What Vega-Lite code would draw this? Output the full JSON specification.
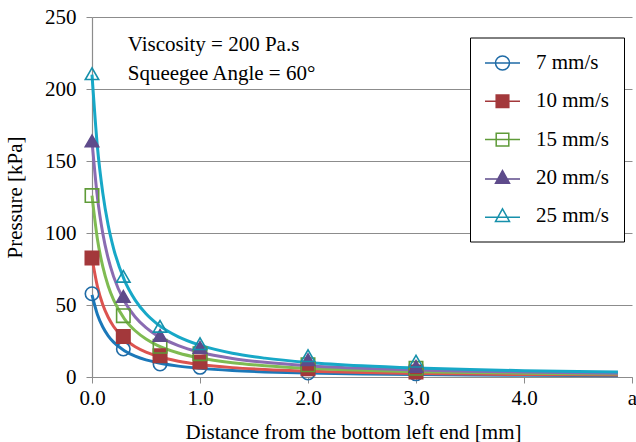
{
  "$schema": "https://vega.github.io/schema/vega-lite/v6.json",
  "width": 540,
  "height": 360,
  "autosize": {"type": "none"},
  "padding": {"left": 92, "top": 17, "right": 4, "bottom": 65},
  "background": "white",
  "config": {
    "view": {"stroke": null},
    "font": "Liberation Serif",
    "axis": {
      "labelFont": "Liberation Serif",
      "labelFontSize": 21,
      "labelColor": "black",
      "labelFlush": false,
      "titleFont": "Liberation Serif",
      "titleFontSize": 21,
      "titleFontWeight": "normal",
      "titleColor": "black",
      "domainColor": "#8c8c8c",
      "tickColor": "#8c8c8c",
      "gridColor": "#8c8c8c",
      "gridWidth": 1,
      "domainWidth": 1.2,
      "tickSize": 6
    },
    "legend": {
      "labelFont": "Liberation Serif",
      "labelFontSize": 21,
      "labelColor": "black",
      "labelAlign": "left"
    }
  },
  "resolve": {"scale": {"shape": "independent", "stroke": "independent", "fill": "independent"}},
  "datasets": {
    "curves": [
      {"series": "7 mm/s", "x": 0, "p": 57},
      {"series": "7 mm/s", "x": 0.05, "p": 43.4},
      {"series": "7 mm/s", "x": 0.1, "p": 34.7},
      {"series": "7 mm/s", "x": 0.15, "p": 28.6},
      {"series": "7 mm/s", "x": 0.2, "p": 24.2},
      {"series": "7 mm/s", "x": 0.3, "p": 18.3},
      {"series": "7 mm/s", "x": 0.4, "p": 14.5},
      {"series": "7 mm/s", "x": 0.5, "p": 11.9},
      {"series": "7 mm/s", "x": 0.6, "p": 10.1},
      {"series": "7 mm/s", "x": 0.8, "p": 7.56},
      {"series": "7 mm/s", "x": 1.0, "p": 5.99},
      {"series": "7 mm/s", "x": 1.3, "p": 4.49},
      {"series": "7 mm/s", "x": 1.6, "p": 3.55},
      {"series": "7 mm/s", "x": 2.0, "p": 2.74},
      {"series": "7 mm/s", "x": 2.5, "p": 2.1},
      {"series": "7 mm/s", "x": 3.0, "p": 1.69},
      {"series": "7 mm/s", "x": 3.5, "p": 1.4},
      {"series": "7 mm/s", "x": 4.0, "p": 1.19},
      {"series": "7 mm/s", "x": 4.5, "p": 1.03},
      {"series": "7 mm/s", "x": 4.87, "p": 0.93},
      {"series": "10 mm/s", "x": 0, "p": 82.6},
      {"series": "10 mm/s", "x": 0.05, "p": 62.9},
      {"series": "10 mm/s", "x": 0.1, "p": 50.2},
      {"series": "10 mm/s", "x": 0.15, "p": 41.5},
      {"series": "10 mm/s", "x": 0.2, "p": 35.1},
      {"series": "10 mm/s", "x": 0.3, "p": 26.5},
      {"series": "10 mm/s", "x": 0.4, "p": 21.0},
      {"series": "10 mm/s", "x": 0.5, "p": 17.3},
      {"series": "10 mm/s", "x": 0.6, "p": 14.6},
      {"series": "10 mm/s", "x": 0.8, "p": 11.0},
      {"series": "10 mm/s", "x": 1.0, "p": 8.67},
      {"series": "10 mm/s", "x": 1.3, "p": 6.51},
      {"series": "10 mm/s", "x": 1.6, "p": 5.15},
      {"series": "10 mm/s", "x": 2.0, "p": 3.97},
      {"series": "10 mm/s", "x": 2.5, "p": 3.05},
      {"series": "10 mm/s", "x": 3.0, "p": 2.44},
      {"series": "10 mm/s", "x": 3.5, "p": 2.03},
      {"series": "10 mm/s", "x": 4.0, "p": 1.72},
      {"series": "10 mm/s", "x": 4.5, "p": 1.49},
      {"series": "10 mm/s", "x": 4.87, "p": 1.35},
      {"series": "15 mm/s", "x": 0, "p": 126},
      {"series": "15 mm/s", "x": 0.05, "p": 95.9},
      {"series": "15 mm/s", "x": 0.1, "p": 76.6},
      {"series": "15 mm/s", "x": 0.15, "p": 63.2},
      {"series": "15 mm/s", "x": 0.2, "p": 53.5},
      {"series": "15 mm/s", "x": 0.3, "p": 40.4},
      {"series": "15 mm/s", "x": 0.4, "p": 32.1},
      {"series": "15 mm/s", "x": 0.5, "p": 26.4},
      {"series": "15 mm/s", "x": 0.6, "p": 22.2},
      {"series": "15 mm/s", "x": 0.8, "p": 16.7},
      {"series": "15 mm/s", "x": 1.0, "p": 13.2},
      {"series": "15 mm/s", "x": 1.3, "p": 9.93},
      {"series": "15 mm/s", "x": 1.6, "p": 7.85},
      {"series": "15 mm/s", "x": 2.0, "p": 6.06},
      {"series": "15 mm/s", "x": 2.5, "p": 4.65},
      {"series": "15 mm/s", "x": 3.0, "p": 3.73},
      {"series": "15 mm/s", "x": 3.5, "p": 3.1},
      {"series": "15 mm/s", "x": 4.0, "p": 2.62},
      {"series": "15 mm/s", "x": 4.5, "p": 2.27},
      {"series": "15 mm/s", "x": 4.87, "p": 2.05},
      {"series": "20 mm/s", "x": 0, "p": 164},
      {"series": "20 mm/s", "x": 0.05, "p": 124.9},
      {"series": "20 mm/s", "x": 0.1, "p": 99.7},
      {"series": "20 mm/s", "x": 0.15, "p": 82.3},
      {"series": "20 mm/s", "x": 0.2, "p": 69.7},
      {"series": "20 mm/s", "x": 0.3, "p": 52.6},
      {"series": "20 mm/s", "x": 0.4, "p": 41.7},
      {"series": "20 mm/s", "x": 0.5, "p": 34.3},
      {"series": "20 mm/s", "x": 0.6, "p": 28.9},
      {"series": "20 mm/s", "x": 0.8, "p": 21.8},
      {"series": "20 mm/s", "x": 1.0, "p": 17.2},
      {"series": "20 mm/s", "x": 1.3, "p": 12.9},
      {"series": "20 mm/s", "x": 1.6, "p": 10.2},
      {"series": "20 mm/s", "x": 2.0, "p": 7.89},
      {"series": "20 mm/s", "x": 2.5, "p": 6.05},
      {"series": "20 mm/s", "x": 3.0, "p": 4.85},
      {"series": "20 mm/s", "x": 3.5, "p": 4.03},
      {"series": "20 mm/s", "x": 4.0, "p": 3.41},
      {"series": "20 mm/s", "x": 4.5, "p": 2.95},
      {"series": "20 mm/s", "x": 4.87, "p": 2.67},
      {"series": "25 mm/s", "x": 0, "p": 210},
      {"series": "25 mm/s", "x": 0.05, "p": 159.9},
      {"series": "25 mm/s", "x": 0.1, "p": 127.7},
      {"series": "25 mm/s", "x": 0.15, "p": 105.4},
      {"series": "25 mm/s", "x": 0.2, "p": 89.2},
      {"series": "25 mm/s", "x": 0.3, "p": 67.3},
      {"series": "25 mm/s", "x": 0.4, "p": 53.4},
      {"series": "25 mm/s", "x": 0.5, "p": 43.9},
      {"series": "25 mm/s", "x": 0.6, "p": 37.1},
      {"series": "25 mm/s", "x": 0.8, "p": 27.9},
      {"series": "25 mm/s", "x": 1.0, "p": 22.1},
      {"series": "25 mm/s", "x": 1.3, "p": 16.5},
      {"series": "25 mm/s", "x": 1.6, "p": 13.1},
      {"series": "25 mm/s", "x": 2.0, "p": 10.1},
      {"series": "25 mm/s", "x": 2.5, "p": 7.75},
      {"series": "25 mm/s", "x": 3.0, "p": 6.22},
      {"series": "25 mm/s", "x": 3.5, "p": 5.17},
      {"series": "25 mm/s", "x": 4.0, "p": 4.37},
      {"series": "25 mm/s", "x": 4.5, "p": 3.78},
      {"series": "25 mm/s", "x": 4.87, "p": 3.42}
    ],
    "measured": [
      {"series": "7 mm/s", "x": 0, "p": 57.8},
      {"series": "7 mm/s", "x": 0.29, "p": 19.4},
      {"series": "7 mm/s", "x": 0.63, "p": 9},
      {"series": "7 mm/s", "x": 1.0, "p": 6.7},
      {"series": "7 mm/s", "x": 2.0, "p": 2.8},
      {"series": "7 mm/s", "x": 3.0, "p": 2.2},
      {"series": "10 mm/s", "x": 0, "p": 82.6},
      {"series": "10 mm/s", "x": 0.29, "p": 28.2},
      {"series": "10 mm/s", "x": 0.63, "p": 14.8},
      {"series": "10 mm/s", "x": 1.0, "p": 10.4},
      {"series": "10 mm/s", "x": 2.0, "p": 5.7},
      {"series": "10 mm/s", "x": 3.0, "p": 3.5},
      {"series": "15 mm/s", "x": 0, "p": 126},
      {"series": "15 mm/s", "x": 0.29, "p": 42.6},
      {"series": "15 mm/s", "x": 0.63, "p": 21.3},
      {"series": "15 mm/s", "x": 1.0, "p": 16.2},
      {"series": "15 mm/s", "x": 2.0, "p": 8.5},
      {"series": "15 mm/s", "x": 3.0, "p": 6.0},
      {"series": "20 mm/s", "x": 0, "p": 164},
      {"series": "20 mm/s", "x": 0.29, "p": 56},
      {"series": "20 mm/s", "x": 0.63, "p": 28.9},
      {"series": "20 mm/s", "x": 1.0, "p": 20.6},
      {"series": "20 mm/s", "x": 2.0, "p": 12},
      {"series": "20 mm/s", "x": 3.0, "p": 7.4},
      {"series": "25 mm/s", "x": 0, "p": 210.6},
      {"series": "25 mm/s", "x": 0.29, "p": 69.9},
      {"series": "25 mm/s", "x": 0.63, "p": 35.2},
      {"series": "25 mm/s", "x": 1.0, "p": 23.1},
      {"series": "25 mm/s", "x": 2.0, "p": 14.8},
      {"series": "25 mm/s", "x": 3.0, "p": 11.0}
    ],
    "notes": [
      {"x": 0.331, "p": 226.1, "note": "Viscosity = 200 Pa.s"},
      {"x": 0.331, "p": 206.5, "note": "Squeegee Angle = 60°"}
    ]
  },
  "encoding": {
    "x": {
      "field": "x",
      "type": "quantitative",
      "scale": {"domain": [0, 5], "nice": false},
      "axis": {
        "title": "Distance from the bottom left end [mm]",
        "values": [0, 1, 2, 3, 4, 5],
        "labelExpr": "datum.value > 4.5 ? 'a' : format(abs(datum.value), '.1f')",
        "grid": false,
        "labelPadding": 4,
        "titleX": 261,
        "titleY": 55,
        "titleBaseline": "middle",
        "titleAlign": "center",
        "titleAnchor": null
      }
    },
    "y": {
      "field": "p",
      "type": "quantitative",
      "scale": {"domain": [0, 250], "nice": false},
      "axis": {
        "title": "Pressure [kPa]",
        "values": [0, 50, 100, 150, 200, 250],
        "grid": true,
        "labelPadding": 10,
        "titleX": -77,
        "titleY": 180,
        "titleBaseline": "middle",
        "titleAlign": "center",
        "titleAngle": -90
      }
    }
  },
  "layer": [
    {
      "data": {"name": "curves"},
      "mark": {"type": "line", "interpolate": "monotone", "strokeWidth": 3},
      "encoding": {
        "detail": {"field": "series"},
        "color": {
          "field": "series",
          "type": "nominal",
          "scale": {
            "domain": ["25 mm/s", "20 mm/s", "15 mm/s", "10 mm/s", "7 mm/s"],
            "range": ["#17a8c7", "#8a6bb2", "#7fbb52", "#dc5350", "#1b78b9"]
          },
          "legend": null
        }
      }
    },
    {
      "data": {"name": "measured"},
      "mark": {"type": "point", "filled": true, "size": 180, "strokeWidth": 1.6, "opacity": 1},
      "encoding": {
        "shape": {
          "field": "series",
          "type": "nominal",
          "scale": {
            "domain": ["25 mm/s", "20 mm/s", "15 mm/s", "10 mm/s", "7 mm/s"],
            "range": ["triangle-up", "triangle-up", "square", "square", "circle"]
          },
          "legend": null
        },
        "stroke": {
          "field": "series",
          "type": "nominal",
          "scale": {
            "domain": ["25 mm/s", "20 mm/s", "15 mm/s", "10 mm/s", "7 mm/s"],
            "range": ["#1690ab", "#5e4b8b", "#5f9b38", "#a3383b", "#1f6ba6"]
          },
          "legend": null
        },
        "fill": {
          "field": "series",
          "type": "nominal",
          "scale": {
            "domain": ["25 mm/s", "20 mm/s", "15 mm/s", "10 mm/s", "7 mm/s"],
            "range": ["transparent", "#5e4b8b", "transparent", "#a3383b", "transparent"]
          },
          "legend": null
        }
      }
    },
    {
      "data": {"name": "measured"},
      "mark": {"type": "point", "filled": true, "size": 196, "strokeWidth": 1.5, "opacity": 0},
      "encoding": {
        "shape": {
          "field": "series",
          "type": "nominal",
          "scale": {
            "domain": ["7 mm/s", "10 mm/s", "15 mm/s", "20 mm/s", "25 mm/s"],
            "range": [
              "M-2.5,0L2.5,0M-1,0A1,1,0,1,1,1,0A1,1,0,1,1,-1,0Z",
              "M-2.5,0L2.5,0M-0.9,-0.9L0.9,-0.9L0.9,0.9L-0.9,0.9Z",
              "M-2.5,0L2.5,0M-0.9,-0.9L0.9,-0.9L0.9,0.9L-0.9,0.9Z",
              "M-2.5,0.15L2.5,0.15M0,-1.05L1,0.75L-1,0.75Z",
              "M-2.5,0.15L2.5,0.15M0,-1.05L1,0.75L-1,0.75Z"
            ]
          },
          "legend": {
            "title": null,
            "orient": "none",
            "legendX": 378,
            "legendY": 20.5,
            "padding": 15,
            "fillColor": "white",
            "strokeColor": "black",
            "rowPadding": 16.3,
            "symbolSize": 196,
            "symbolStrokeWidth": 1.5,
            "symbolOpacity": 1,
            "symbolOffset": 7,
            "labelOffset": 23,
            "labelAlign": "left"
          }
        },
        "stroke": {
          "field": "series",
          "type": "nominal",
          "scale": {
            "domain": ["7 mm/s", "10 mm/s", "15 mm/s", "20 mm/s", "25 mm/s"],
            "range": ["#1f6ba6", "#a3383b", "#5f9b38", "#5e4b8b", "#1690ab"]
          },
          "legend": {
            "title": null,
            "orient": "none",
            "legendX": 378,
            "legendY": 20.5,
            "padding": 15,
            "fillColor": "white",
            "strokeColor": "black",
            "rowPadding": 16.3,
            "symbolSize": 196,
            "symbolStrokeWidth": 1.5,
            "symbolOpacity": 1,
            "symbolOffset": 7,
            "labelOffset": 23,
            "labelAlign": "left"
          }
        },
        "fill": {
          "field": "series",
          "type": "nominal",
          "scale": {
            "domain": ["7 mm/s", "10 mm/s", "15 mm/s", "20 mm/s", "25 mm/s"],
            "range": ["transparent", "#a3383b", "transparent", "#5e4b8b", "transparent"]
          },
          "legend": {
            "title": null,
            "orient": "none",
            "legendX": 378,
            "legendY": 20.5,
            "padding": 15,
            "fillColor": "white",
            "strokeColor": "black",
            "rowPadding": 16.3,
            "symbolSize": 196,
            "symbolStrokeWidth": 1.5,
            "symbolOpacity": 1,
            "symbolOffset": 7,
            "labelOffset": 23,
            "labelAlign": "left"
          }
        }
      }
    },
    {
      "data": {"name": "notes"},
      "mark": {"type": "text", "align": "left", "baseline": "alphabetic", "font": "Liberation Serif", "fontSize": 21, "color": "black"},
      "encoding": {
        "text": {"field": "note"}
      }
    }
  ]
}
